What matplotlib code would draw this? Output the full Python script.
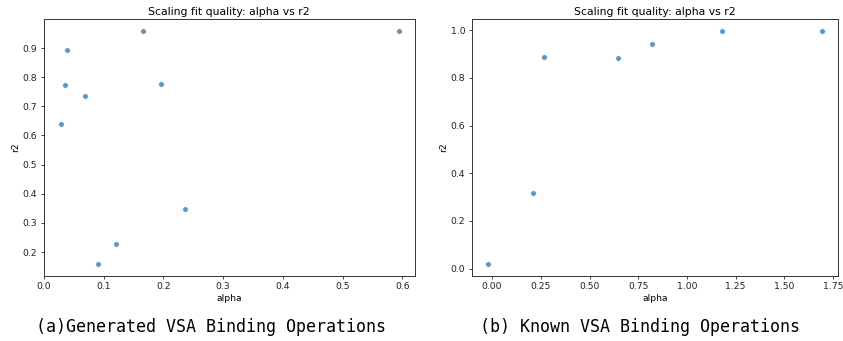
import matplotlib
matplotlib.use("Agg")
import matplotlib.pyplot as plt

# Data
gen_alpha = [0.166, 0.594, 0.039, 0.0345, 0.1955, 0.069, 0.029, 0.2357, 0.1208, 0.0908]
gen_r2 = [0.960, 0.957, 0.893, 0.772, 0.776, 0.735, 0.640, 0.347, 0.2275, 0.159]

known_alpha = [-0.019, 0.212, 0.267, 0.647, 0.822, 1.180, 1.691]
known_r2 = [0.019, 0.319, 0.889, 0.884, 0.942, 0.998, 0.996]

title = "Scaling fit quality: alpha vs r2"
captions = ["(a)Generated VSA Binding Operations", "(b) Known VSA Binding Operations"]

W, H = 843, 341
fig = plt.figure(figsize=(W / 100, H / 100), dpi=100)

def rect(l, r, t, b):
    return [l / W, 1 - b / H, (r - l) / W, (b - t) / H]

ax1 = fig.add_axes(rect(43.6, 415, 19, 275.7))
ax2 = fig.add_axes(rect(471.7, 838.3, 19, 275.7))

for ax, xs, ys, cap, cx in [
    (ax1, gen_alpha, gen_r2, captions[0], 211),
    (ax2, known_alpha, known_r2, captions[1], 640),
]:
    ax.scatter(xs, ys, s=16, color="#1f77b4", alpha=0.75, edgecolors="white", linewidths=0.5)
    ax.set_title(title, fontsize=7.8, pad=3)
    ax.set_xlabel("alpha", fontsize=6.7, labelpad=2)
    ax.set_ylabel("r2", fontsize=6.7, labelpad=2)
    ax.tick_params(labelsize=6.7, length=2.5, width=0.6, pad=2, colors="#222222")
    for sp in ax.spines.values():
        sp.set_linewidth(0.7)
        sp.set_color("#333333")
    fig.text(cx / W, 1 - 327 / H, cap, fontsize=12, family="DejaVu Sans Mono",
             ha="center", va="center")

ax1.set_xlim(-0.0005, 0.621)
ax1.set_ylim(0.119, 0.9995)

fig.savefig("out.png", dpi=100)
